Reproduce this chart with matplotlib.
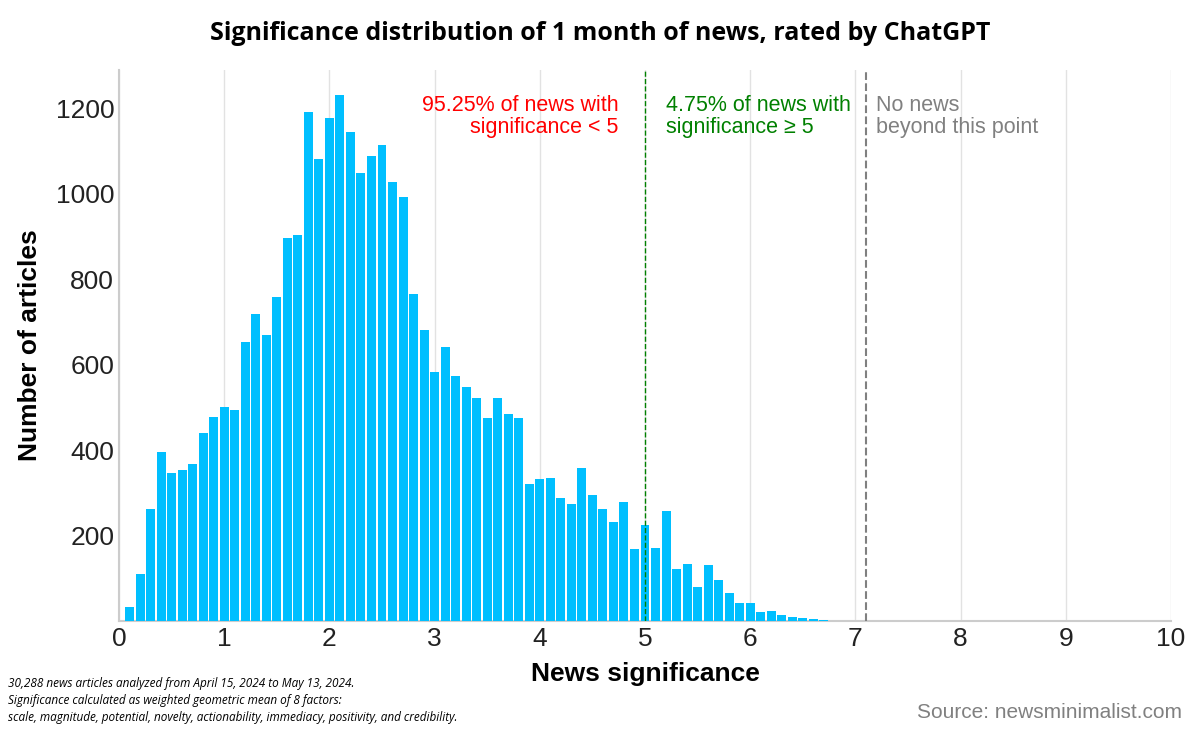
import matplotlib

matplotlib.use("Agg")
import matplotlib.pyplot as plt
import numpy as np

plt.rcParams["font.family"] = ["Liberation Sans", "DejaVu Sans"]

# bin centers 0.1 .. 6.9
centers = np.round(np.arange(1, 70) * 0.1, 1)
counts = [33, 111, 262, 396, 346, 353, 367, 440, 478, 500,
          494, 653, 719, 668, 758, 896, 902, 1190, 1080, 1176,
          1231, 1144, 1047, 1088, 1114, 1028, 991, 764, 681, 582,
          641, 573, 548, 522, 475, 522, 484, 475, 320, 332,
          334, 288, 274, 358, 295, 262, 231, 278, 168, 225,
          170, 257, 122, 133, 80, 131, 96, 65, 42, 42,
          21, 23, 14, 9, 7, 5, 2, 1, 1]
y_ticks = [200, 400, 600, 800, 1000, 1200]
x_ticks = list(range(0, 11))

fig = plt.figure(figsize=(12, 7.46), dpi=100)
ax = fig.add_axes([119 / 1200, 125 / 746, 1052 / 1200, 551 / 746])

ax.bar(centers, counts, width=0.085, color="#00bfff", zorder=3)
ax.set_xlim(0, 10)
ax.set_ylim(0, 1289)
ax.set_xticks(x_ticks)
ax.set_yticks(y_ticks)
ax.tick_params(labelsize=19, length=0, colors="#222222")
ax.tick_params(axis="x", pad=4)
ax.grid(axis="x", color="#e2e2e2", lw=1, zorder=0)
for s in ["top", "right"]:
    ax.spines[s].set_visible(False)
for s in ["left", "bottom"]:
    ax.spines[s].set_color("#cccccc")
    ax.spines[s].set_linewidth(1.5)

ax.axvline(5.0, color="green", ls="--", lw=1, zorder=4)
ax.axvline(7.1, color="gray", ls="--", lw=1.5, zorder=4)

ax.text(4.75, 1230, "95.25% of news with\nsignificance < 5", color="red",
        fontsize=15.5, ha="right", va="top", linespacing=1.05)
ax.text(5.2, 1230, "4.75% of news with\nsignificance ≥ 5", color="green",
        fontsize=15.5, ha="left", va="top", linespacing=1.05)
ax.text(7.2, 1230, "No news\nbeyond this point", color="gray",
        fontsize=15.5, ha="left", va="top", linespacing=1.05)

ax.set_xlabel("News significance", fontsize=19, fontweight="bold", labelpad=8)
ax.set_ylabel("Number of articles", fontsize=19, fontweight="bold", labelpad=10)

fig.text(0.5, 0.955, "Significance distribution of 1 month of news, rated by ChatGPT",
         ha="center", va="center", fontsize=18, fontweight="bold",
         family=["Open Sans", "DejaVu Sans"])
fig.text(8 / 1200, 0.03,
         "30,288 news articles analyzed from April 15, 2024 to May 13, 2024.\n"
         "Significance calculated as weighted geometric mean of 8 factors:\n"
         "scale, magnitude, potential, novelty, actionability, immediacy, positivity, and credibility.",
         fontsize=8.5, style="italic", ha="left", va="bottom", linespacing=1.4,
         family=["Open Sans", "DejaVu Sans"])
fig.text(0.985, 0.045, "Source: newsminimalist.com", fontsize=15, color="gray",
         ha="right", va="center")

fig.savefig("out.png", dpi=100)
